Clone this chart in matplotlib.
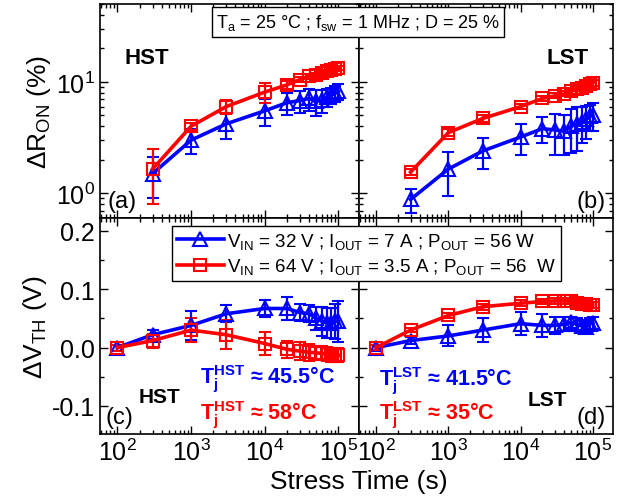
import numpy as np
import matplotlib
matplotlib.use('Agg')
import matplotlib.pyplot as plt
from matplotlib.ticker import LogLocator, MultipleLocator, NullFormatter
from matplotlib.lines import Line2D

plt.rcParams['font.family'] = ['Liberation Sans', 'DejaVu Sans']
plt.rcParams['mathtext.fontset'] = 'custom'
plt.rcParams['mathtext.rm'] = 'Liberation Sans'
plt.rcParams['mathtext.it'] = 'Liberation Sans:italic'
plt.rcParams['mathtext.bf'] = 'Liberation Sans:bold'

# stress times (s)
t_ron = [300, 1e3, 3e3, 1e4, 2e4, 3e4, 4e4, 5e4, 6e4, 7e4, 8e4, 9e4, 1e5]
t_vth = [100, 300, 1e3, 3e3, 1e4, 2e4, 3e4, 4e4, 5e4, 6e4, 7e4, 8e4, 9e4, 1e5]

# (a) HST dRon (%)
hst_ron_32 = [1.5, 3.0, 4.2, 5.5, 6.5, 6.8, 7.1, 6.7, 6.9, 7.3, 7.6, 7.9, 8.2]
hst_ron_32_err = [0.6, 0.75, 1.1, 1.5, 1.5, 1.5, 1.6, 1.8, 1.6, 1.3, 1.3, 1.3, 1.3]
hst_ron_64 = [1.65, 4.0, 6.0, 8.1, 9.4, 10.5, 11.2, 11.6, 12.0, 12.4, 12.8, 13.1, 13.4]
hst_ron_64_err = [0.85, 0.3, 0.9, 1.6, 0.7, 0.5, 0.5, 0.5, 0.5, 0.5, 0.5, 0.5, 0.5]

# (b) LST dRon (%)
lst_ron_32 = [0.88, 1.65, 2.4, 3.2, 3.8, 3.7, 3.6, 4.0, 4.2, 4.4, 4.6, 4.9, 5.0]
lst_ron_32_err = [0.22, 0.7, 0.75, 1.0, 1.0, 1.5, 1.4, 1.7, 1.8, 1.6, 1.5, 1.3, 1.4]
lst_ron_64 = [1.55, 3.5, 4.7, 6.0, 7.1, 7.5, 7.8, 8.2, 8.6, 8.9, 9.2, 9.5, 9.8]
lst_ron_64_err = [0.1, 0.25, 0.3, 0.35, 0.4, 0.4, 0.4, 0.4, 0.4, 0.5, 0.5, 0.5, 0.6]

# (c) HST dVth (V)
hst_vth_32 = [0, 0.022, 0.038, 0.058, 0.067, 0.067, 0.060, 0.058, 0.050, 0.045, 0.042, 0.042, 0.045, 0.045]
hst_vth_32_err = [0.005, 0.008, 0.025, 0.015, 0.015, 0.02, 0.015, 0.015, 0.02, 0.025, 0.025, 0.025, 0.03, 0.035]
hst_vth_64 = [0, 0.012, 0.03, 0.022, 0.007, -0.003, -0.006, -0.008, -0.009, -0.010, -0.011, -0.012, -0.012, -0.013]
hst_vth_64_err = [0.005, 0.012, 0.02, 0.025, 0.02, 0.015, 0.015, 0.015, 0.012, 0.012, 0.012, 0.012, 0.012, 0.012]

# (d) LST dVth (V)
lst_vth_32 = [0, 0.012, 0.02, 0.03, 0.041, 0.038, 0.038, 0.040, 0.043, 0.040, 0.037, 0.036, 0.041, 0.042]
lst_vth_32_err = [0.005, 0.006, 0.018, 0.02, 0.02, 0.02, 0.015, 0.012, 0.01, 0.01, 0.01, 0.01, 0.01, 0.01]
lst_vth_64 = [0, 0.03, 0.055, 0.07, 0.076, 0.079, 0.08, 0.08, 0.079, 0.077, 0.075, 0.074, 0.073, 0.073]
lst_vth_64_err = [0.004, 0.004, 0.005, 0.005, 0.005, 0.005, 0.005, 0.005, 0.005, 0.005, 0.005, 0.005, 0.005, 0.005]

BLUE = '#0000ff'
RED = '#ff0000'

lab32 = r'V$_{\mathregular{IN}}$ = 32 V ; I$_{\mathregular{OUT}}$ = 7 A ; P$_{\mathregular{OUT}}$ = 56 W'
lab64 = r'V$_{\mathregular{IN}}$ = 64 V ; I$_{\mathregular{OUT}}$ = 3.5 A ; P$_{\mathregular{OUT}}$ = 56  W'

fig = plt.figure(figsize=(6.31, 5.02), dpi=100)
W, H = 631, 502

def box(x0, y0, x1, y1):
    return [x0 / W, 1 - y1 / H, (x1 - x0) / W, (y1 - y0) / H]

ax_a = fig.add_axes(box(100, 5, 359, 219))
ax_b = fig.add_axes(box(359, 5, 613, 219))
ax_c = fig.add_axes(box(100, 219, 359, 435))
ax_d = fig.add_axes(box(359, 219, 613, 435))

def series(ax, x, y, err, color, marker, ms):
    ax.errorbar(x, y, yerr=err, color=color, lw=2.6, marker=marker, ms=ms,
                mfc='none', mec=color, mew=1.5, elinewidth=1.6,
                capsize=4.5, capthick=1.6, zorder=3)

series(ax_a, t_ron, hst_ron_32, hst_ron_32_err, BLUE, '^', 10)
series(ax_a, t_ron, hst_ron_64, hst_ron_64_err, RED, 's', 9)
series(ax_b, t_ron, lst_ron_32, lst_ron_32_err, BLUE, '^', 10)
series(ax_b, t_ron, lst_ron_64, lst_ron_64_err, RED, 's', 9)
series(ax_c, t_vth, hst_vth_32, hst_vth_32_err, BLUE, '^', 10)
series(ax_c, t_vth, hst_vth_64, hst_vth_64_err, RED, 's', 9)
series(ax_d, t_vth, lst_vth_32, lst_vth_32_err, BLUE, '^', 10)
series(ax_d, t_vth, lst_vth_64, lst_vth_64_err, RED, 's', 9)

for ax in (ax_a, ax_b, ax_c, ax_d):
    ax.set_xscale('log')
    ax.set_xlim(58, 1.9e5)
    ax.xaxis.set_major_locator(LogLocator(base=10, numticks=10))
    ax.xaxis.set_minor_locator(LogLocator(base=10, subs=np.arange(2, 10), numticks=10))
    ax.xaxis.set_minor_formatter(NullFormatter())
    ax.tick_params(which='both', direction='in', top=True, right=True, labelsize=18, width=1)
    ax.tick_params(which='major', length=6)
    ax.tick_params(which='minor', length=3)
    for s in ax.spines.values():
        s.set_linewidth(1.2)

for ax in (ax_a, ax_b):
    ax.set_yscale('log')
    ax.set_ylim(0.6, 50)
    ax.yaxis.set_major_locator(LogLocator(base=10, numticks=10))
    ax.yaxis.set_minor_locator(LogLocator(base=10, subs=np.arange(2, 10), numticks=10))
    ax.yaxis.set_minor_formatter(NullFormatter())
    ax.tick_params(labelbottom=False)

for ax in (ax_c, ax_d):
    ax.set_ylim(-0.148, 0.222)
    ax.yaxis.set_major_locator(MultipleLocator(0.1))
    ax.yaxis.set_minor_locator(MultipleLocator(0.05))
    ax.yaxis.set_major_formatter(plt.FuncFormatter(lambda v, p: f'{v:.1f}'))

ax_b.tick_params(labelleft=False)
ax_d.tick_params(labelleft=False)

ax_a.set_ylabel(r'$\Delta$R$_{\mathregular{ON}}$ (%)', fontsize=19, labelpad=2)
ax_c.set_ylabel(r'$\Delta$V$_{\mathregular{TH}}$ (V)', fontsize=19, labelpad=2)
fig.text(359 / W, 1 - 482 / H, 'Stress Time (s)', fontsize=19, ha='center', va='center')

# panel annotations
ax_a.text(0.18, 0.75, 'HST', transform=ax_a.transAxes, fontsize=16, fontweight='bold', ha='center', va='center')
ax_b.text(0.82, 0.75, 'LST', transform=ax_b.transAxes, fontsize=16, fontweight='bold', ha='center', va='center')
ax_a.text(0.03, 0.03, '(a)', transform=ax_a.transAxes, fontsize=17, ha='left', va='bottom')
ax_b.text(0.97, 0.03, '(b)', transform=ax_b.transAxes, fontsize=17, ha='right', va='bottom')
ax_c.text(0.02, 0.03, '(c)', transform=ax_c.transAxes, fontsize=17, ha='left', va='bottom')
ax_d.text(0.97, 0.03, '(d)', transform=ax_d.transAxes, fontsize=17, ha='right', va='bottom')
ax_c.text(0.23, 0.175, 'HST', transform=ax_c.transAxes, fontsize=15, fontweight='bold', ha='center', va='center')
ax_d.text(0.74, 0.16, 'LST', transform=ax_d.transAxes, fontsize=15, fontweight='bold', ha='center', va='center')

ax_c.text(0.385, 0.26, r'T$_{\mathbf{j}}^{\mathbf{HST}}$ ≈ 45.5°C', transform=ax_c.transAxes,
          fontsize=15.5, fontweight='bold', color=BLUE, ha='left', va='center')
ax_c.text(0.385, 0.09, r'T$_{\mathbf{j}}^{\mathbf{HST}}$ ≈ 58°C', transform=ax_c.transAxes,
          fontsize=15.5, fontweight='bold', color=RED, ha='left', va='center')
ax_d.text(0.08, 0.25, r'T$_{\mathbf{j}}^{\mathbf{LST}}$ ≈ 41.5°C', transform=ax_d.transAxes,
          fontsize=15.5, fontweight='bold', color=BLUE, ha='left', va='center')
ax_d.text(0.08, 0.09, r'T$_{\mathbf{j}}^{\mathbf{LST}}$ ≈ 35°C', transform=ax_d.transAxes,
          fontsize=15.5, fontweight='bold', color=RED, ha='left', va='center')

# condition box
fig.text(358 / W, 1 - 23 / H, r'T$_{\mathregular{a}}$ = 25 °C ; f$_{\mathregular{sw}}$ = 1 MHz ; D = 25 %',
         fontsize=13, ha='center', va='center',
         bbox=dict(boxstyle='square,pad=0.25', fc='white', ec='black', lw=1), zorder=5)

handles = [Line2D([], [], color=BLUE, lw=2.6, marker='^', ms=10, mfc='none', mew=1.5),
           Line2D([], [], color=RED, lw=2.6, marker='s', ms=9, mfc='none', mew=1.5)]
leg = fig.legend(handles, [lab32, lab64], loc='upper left', bbox_to_anchor=(172 / W, 1 - 227 / H),
                 fontsize=13.5, frameon=True, fancybox=False, edgecolor='black', framealpha=1,
                 handlelength=2.5, handletextpad=0.2, borderpad=0.25, labelspacing=0.3, borderaxespad=0)
leg.get_frame().set_linewidth(1)

fig.savefig('out.png', dpi=100)
